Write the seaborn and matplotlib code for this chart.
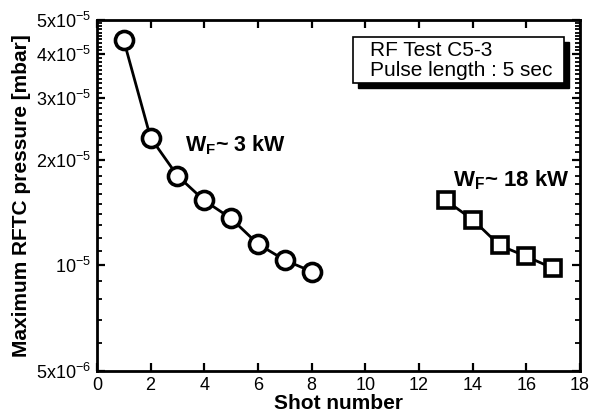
import numpy as np
import pandas as pd
import matplotlib
matplotlib.use("Agg")
import matplotlib.pyplot as plt
from matplotlib.ticker import FixedLocator, FixedFormatter, NullFormatter
from matplotlib.patches import Rectangle
import seaborn as sns

# Shot data: maximum RFTC pressure per shot at two forward powers
shots_3kw = [1, 2, 3, 4, 5, 6, 7, 8]
pressure_3kw = [4.38e-5, 2.31e-5, 1.80e-5, 1.53e-5, 1.36e-5, 1.15e-5, 1.035e-5, 9.6e-6]
shots_18kw = [13, 14, 15, 16, 17]
pressure_18kw = [1.53e-5, 1.35e-5, 1.14e-5, 1.06e-5, 9.8e-6]

ytick_values = [5e-6, 1e-5, 2e-5, 3e-5, 4e-5, 5e-5]
ytick_labels = [r"$5\mathregular{x}10^{-6}$", r"$10^{-5}$", r"$2\mathregular{x}10^{-5}$",
                r"$3\mathregular{x}10^{-5}$", r"$4\mathregular{x}10^{-5}$", r"$5\mathregular{x}10^{-5}$"]
xtick_values = list(range(0, 19, 2))

sns.set_style("ticks", {"axes.edgecolor": "black", "xtick.color": "black",
                        "ytick.color": "black", "text.color": "black",
                        "axes.labelcolor": "black"})
plt.rcParams["font.family"] = ["Liberation Sans", "DejaVu Sans"]
plt.rcParams["mathtext.fontset"] = "custom"
plt.rcParams["mathtext.rm"] = "Liberation Sans"
plt.rcParams["mathtext.it"] = "Liberation Sans"
plt.rcParams["mathtext.bf"] = "Liberation Sans:bold"
plt.rcParams["mathtext.default"] = "regular"

df3 = pd.DataFrame({"shot": shots_3kw, "p": pressure_3kw})
df18 = pd.DataFrame({"shot": shots_18kw, "p": pressure_18kw})

fig = plt.figure(figsize=(5.98, 4.19), dpi=100)
ax = fig.add_axes([0.162, 0.1146, 0.808, 0.8377])

sns.lineplot(data=df3, x="shot", y="p", ax=ax, color="black", lw=2,
             marker="o", markersize=13, markerfacecolor="white",
             markeredgecolor="black", markeredgewidth=2.6)
sns.lineplot(data=df18, x="shot", y="p", ax=ax, color="black", lw=2,
             marker="s", markersize=11.5, markerfacecolor="white",
             markeredgecolor="black", markeredgewidth=2.6)

ax.set_yscale("log")
ax.set_xlim(0, 18)
ax.set_ylim(5e-6, 5e-5)

ax.xaxis.set_major_locator(FixedLocator(xtick_values))
ax.yaxis.set_major_locator(FixedLocator(ytick_values))
ax.yaxis.set_major_formatter(FixedFormatter(ytick_labels))
ax.yaxis.set_minor_locator(FixedLocator([k * 1e-6 for k in range(5, 51)]))
ax.yaxis.set_minor_formatter(NullFormatter())

ax.tick_params(axis="both", which="major", direction="in", length=6, width=1.6,
               labelsize=13, top=True, right=True, pad=4, color="black")
ax.tick_params(axis="y", which="minor", direction="in", length=3.5, width=1.3,
               left=True, right=True, color="black")
ax.tick_params(axis="x", which="minor", bottom=False, top=False)
for sp in ax.spines.values():
    sp.set_linewidth(2)
    sp.set_color("black")
    sp.set_visible(True)

ax.set_xlabel("Shot number", fontsize=15, fontweight="bold", labelpad=0)
ax.set_ylabel("Maximum RFTC pressure [mbar]", fontsize=15, fontweight="bold", labelpad=4)

ax.text(3.3, 2.2e-5, r"$\mathbf{W_{F}}$" + "~ 3 kW", fontsize=15.5, fontweight="bold",
        ha="left", va="center")
ax.text(13.25, 1.75e-5, r"$\mathbf{W_{F}}$" + "~ 18 kW", fontsize=16, fontweight="bold",
        ha="left", va="center")

# Annotation box with a drop shadow
bx, by, bw, bh = 0.530, 0.8205, 0.437, 0.131
ax.add_patch(Rectangle((bx + 0.011, by - 0.015), bw, bh, transform=ax.transAxes,
                       facecolor="black", edgecolor="black", zorder=4))
ax.add_patch(Rectangle((bx, by), bw, bh, transform=ax.transAxes,
                       facecolor="white", edgecolor="black", linewidth=1.2, zorder=5))
ax.text(0.566, 0.8855, "RF Test C5-3\nPulse length : 5 sec", transform=ax.transAxes,
        fontsize=15, ha="left", va="center", linespacing=1.05, zorder=6)

if ax.get_legend() is not None:
    ax.get_legend().remove()

fig.savefig("out.png", dpi=100)
